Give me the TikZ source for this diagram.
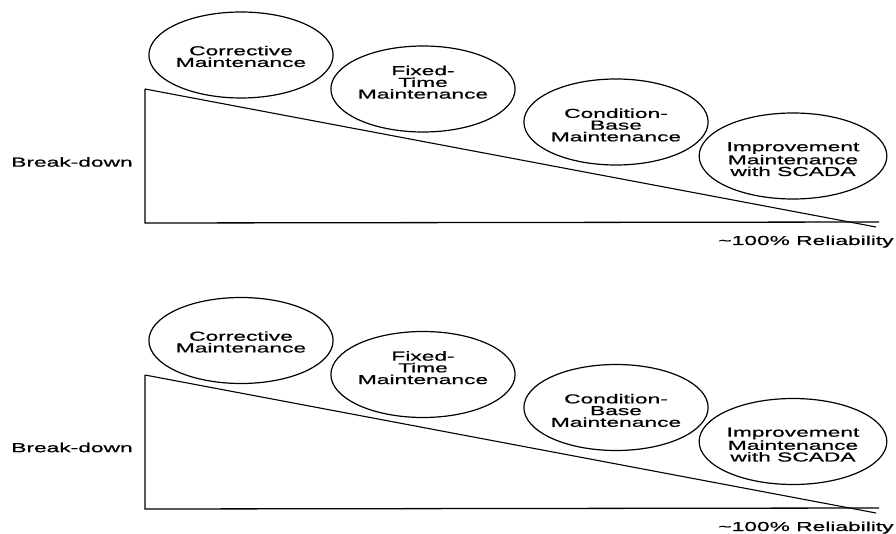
\documentclass[tikz,border=0pt]{standalone}
\usepackage{fontspec}
\usetikzlibrary{shapes.geometric}
\newfontfamily\diagfont[FakeStretch=1.75,FakeBold=0.8]{Liberation Sans}
% strut that pushes a centred text block down inside its ellipse
\newcommand\toppad[1]{\rule{0pt}{#1}}
\begin{document}
\begin{tikzpicture}[x=1pt,y=-1pt,
  every node/.style={font=\diagfont\fontsize{13}{11.7}\selectfont},
  stage/.style={draw, ellipse, line width=1.2pt, inner sep=0pt,
    minimum width=168pt, minimum height=86pt, align=center},
  axis/.style={line width=1.3pt},
  trend/.style={line width=1.1pt},
  lbl/.style={inner sep=0pt, align=center}]
\useasboundingbox (0,0) rectangle (896,534);

% Upper chart
\coordinate (topA) at (145,89);
\coordinate (origA) at (145,223);
\coordinate (endA) at (879,222);
\coordinate (zeroA) at (876,227);
\draw[axis] (topA) -- (origA) -- (endA);
\draw[trend] (topA) -- (zeroA);
\node[stage] (cmA) at (241,55) {\toppad{12.3pt}Corrective\\Maintenance};
\node[stage] (ftA) at (423,89) {Fixed-\\Time\\Maintenance\\[2pt]};
\node[stage, minimum width=164pt] (cbA) at (616,122) {\toppad{15.3pt}Condition-\\Base\\Maintenance};
\node[stage] (imA) at (793,156) {\toppad{15.3pt}Improvement\\Maintenance\\with SCADA};
\node[lbl] (bdA) at (72,162) {Break-down};
\node[lbl, anchor=base] (rlA) at (806,245) {\textasciitilde100\% Reliability};

% Lower chart
\coordinate (topB) at (145,375);
\coordinate (origB) at (145,509);
\coordinate (endB) at (879,508);
\coordinate (zeroB) at (876,513);
\draw[axis] (topB) -- (origB) -- (endB);
\draw[trend] (topB) -- (zeroB);
\node[stage] (cmB) at (241,340.5) {\toppad{12.3pt}Corrective\\Maintenance};
\node[stage] (ftB) at (423,374.5) {Fixed-\\Time\\Maintenance\\[2pt]};
\node[stage, minimum width=164pt] (cbB) at (616,407.5) {\toppad{15.3pt}Condition-\\Base\\Maintenance};
\node[stage] (imB) at (793,441.5) {\toppad{15.3pt}Improvement\\Maintenance\\with SCADA};
\node[lbl] (bdB) at (72,447.5) {Break-down};
\node[lbl, anchor=base] (rlB) at (806,531) {\textasciitilde100\% Reliability};
\end{tikzpicture}
\end{document}
